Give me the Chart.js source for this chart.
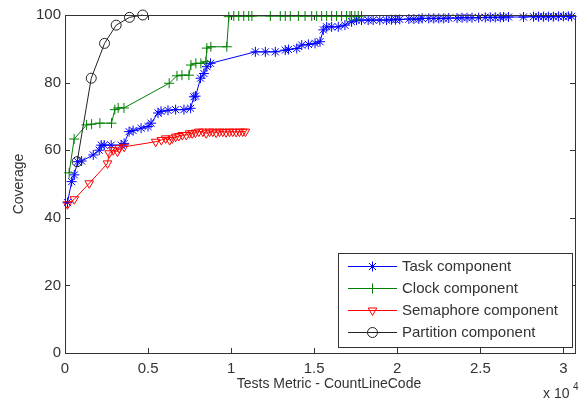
<!DOCTYPE html>
<html>
<head>
<meta charset="utf-8">
<script src="https://cdn.jsdelivr.net/npm/chart.js@4.4.0/dist/chart.umd.min.js"></script>
<style>
  body { margin: 0; background: #fff; }
  canvas { display: block; }
</style>
</head>
<body>
<canvas id="covChart" width="581" height="402"></canvas>
<script>
// series (x = lines of code, y = coverage %)
var taskX = [150, 400, 560, 760, 1000, 1700, 2060, 2180, 2360, 2780, 3380, 3560, 3860, 4100, 4580, 5000, 5180, 5600, 5780, 6200,
  6660, 7160, 7560, 7760, 7860, 8160, 8360, 8540, 8760, 11460, 12060, 12660, 13260, 13450, 13950, 14250, 14650, 15050, 15350, 15550,
  15750, 16050, 16450, 16850, 17250, 17550, 17850, 18250, 18550, 18950, 19350, 19650, 19900, 20150, 20700, 21000, 21300, 21500, 21900, 22200,
  22500, 22800, 23100, 23600, 23900, 24200, 24500, 24900, 25300, 25600, 25900, 26200, 26400, 26700, 27600, 28200, 28500, 28800, 29100, 29400,
  29700, 30000, 30300, 30500];
var taskY = [44.5, 50.7, 52.7, 56.6, 56.8, 58.6, 60, 61.5, 61.5, 61.5, 61.5, 62, 65.5, 65.8, 66.5, 67, 68, 71, 71.5, 71.8,
  72, 72, 72.4, 75.8, 76, 81.3, 82.7, 84.7, 85.7, 89.1, 89.1, 89.1, 89.6, 89.8, 90.1, 91.1, 91.3, 91.6, 92.1, 95.6,
  96.5, 96.5, 96.5, 97, 98, 98.5, 98.5, 98.5, 98.5, 98.5, 98.5, 98.6, 98.6, 98.7, 98.8, 98.8, 98.8, 99, 99, 99,
  99, 99, 99.1, 99.1, 99.2, 99.2, 99.2, 99.2, 99.3, 99.3, 99.3, 99.3, 99.4, 99.4, 99.4, 99.5, 99.5, 99.5, 99.5, 99.5,
  99.6, 99.6, 99.6, 99.6];

var clockX = [250, 550, 1300, 1600, 2100, 2800, 3000, 3200, 3550, 6270, 6740, 7040, 7460, 7580, 7880, 8180, 8480, 8540, 8780, 9740,
  9860, 10160, 10460, 10760, 11060, 11250, 12360, 12960, 13260, 13560, 14050, 14450, 14850, 15150, 15450, 15750, 16050, 16350, 16650, 16950,
  17150, 17250, 17450, 17650, 17850];
var clockY = [53.3, 63.3, 67.5, 67.7, 68, 68, 72, 72.5, 72.5, 79.8, 82, 82.2, 82.2, 85.2, 85.7, 85.7, 86.2, 90.2, 90.6, 90.6,
  99.5, 99.7, 99.7, 99.7, 99.7, 99.7, 99.7, 99.7, 99.7, 99.7, 99.7, 99.7, 99.7, 99.7, 99.7, 99.7, 99.7, 99.7, 99.7, 99.7,
  99.7, 99.7, 99.7, 99.7, 99.7];

var semX = [150, 560, 1460, 2560, 2660, 2900, 3160, 3260, 3560, 5460, 5800, 6060, 6300, 6460, 6660, 6850, 7060, 7300, 7500, 7660,
  7850, 8060, 8300, 8500, 8700, 8900, 9100, 9300, 9500, 9700, 9900, 10100, 10300, 10500, 10700, 10860];
var semY = [44, 45.5, 50.2, 56.1, 59.1, 60, 59.6, 60.6, 61, 62.5, 63, 63.5, 63, 63.5, 64, 64.2, 64.5, 64.5, 65, 65,
  65.2, 65.5, 65.5, 65, 65.5, 65.5, 65.2, 65.5, 65.5, 65.3, 65.5, 65.5, 65.4, 65.5, 65.5, 65.5];

var partX = [730, 1580, 2380, 3080, 3880, 4680];
var partY = [56.6, 81.3, 91.6, 97, 99.3, 100];

var xTicks = [0, 5000, 10000, 15000, 20000, 25000, 30000];
var xTickLabels = ['0', '0.5', '1', '1.5', '2', '2.5', '3'];
var yTicks = [0, 20, 40, 60, 80, 100];

var seriesNames = ['Task component', 'Clock component', 'Semaphore component', 'Partition component'];

function pts(xs, ys) {
  var out = [];
  for (var i = 0; i < xs.length; i++) out.push({x: xs[i], y: ys[i]});
  return out;
}

var txtColor = '#333';
var fontFam = '"Liberation Sans", Arial, sans-serif';

// box, inward ticks, axis titles and legend (MATLAB look)
var matlabAxes = {
  id: 'matlabAxes',
  afterDraw: function(chart) {
    var ctx = chart.ctx, a = chart.chartArea;
    var xs = chart.scales.x, ys = chart.scales.y;
    ctx.save();
    ctx.strokeStyle = '#333';
    ctx.lineWidth = 1;
    ctx.strokeRect(Math.round(a.left) + 0.5, Math.round(a.top) + 0.5, Math.round(a.right - a.left), Math.round(a.bottom - a.top));
    ctx.beginPath();
    xTicks.forEach(function(v) {
      var px = Math.round(xs.getPixelForValue(v)) + 0.5;
      ctx.moveTo(px, a.bottom); ctx.lineTo(px, a.bottom - 5);
      ctx.moveTo(px, a.top); ctx.lineTo(px, a.top + 5);
    });
    yTicks.forEach(function(v) {
      var py = Math.round(ys.getPixelForValue(v)) + 0.5;
      ctx.moveTo(a.left, py); ctx.lineTo(a.left + 5, py);
      ctx.moveTo(a.right, py); ctx.lineTo(a.right - 5, py);
    });
    ctx.stroke();

    // titles
    ctx.fillStyle = txtColor;
    ctx.font = '14px ' + fontFam;
    ctx.textAlign = 'center';
    ctx.textBaseline = 'middle';
    ctx.fillText('Tests Metric - CountLineCode', 329, 384);
    ctx.save();
    ctx.translate(19, 184);
    ctx.rotate(-Math.PI / 2);
    ctx.fillText('Coverage', 0, 0);
    ctx.restore();
    ctx.textAlign = 'left';
    ctx.textBaseline = 'alphabetic';
    ctx.fillText('x 10', 543, 398);
    ctx.font = '10px ' + fontFam;
    ctx.fillText('4', 573, 390);

    // legend
    var lx = 338, ly = 253, lw = 234, lh = 94;
    ctx.fillStyle = '#fff';
    ctx.fillRect(lx, ly, lw, lh);
    ctx.strokeStyle = '#333';
    ctx.strokeRect(lx + 0.5, ly + 0.5, lw, lh);
    ctx.font = '15px ' + fontFam;
    ctx.textBaseline = 'middle';
    chart.data.datasets.forEach(function(ds, i) {
      var ry = 266 + i * 22;
      ctx.strokeStyle = ds.borderColor;
      ctx.lineWidth = 1;
      ctx.beginPath();
      ctx.moveTo(348, ry + 0.5); ctx.lineTo(397, ry + 0.5);
      ctx.stroke();
      ctx.fillStyle = 'rgba(0,0,0,0)';
      Chart.helpers.drawPoint(ctx, {
        pointStyle: ds.pointStyle, rotation: ds.pointRotation || 0,
        radius: ds.pointRadius, borderWidth: 1
      }, 372.5, ry + 0.5);
      ctx.fillStyle = txtColor;
      ctx.fillText(ds.label, 402, ry + 1);
    });
    ctx.restore();
  }
};

function lineSet(name, color, data, style, radius, rot, order) {
  return {
    label: name, data: data,
    borderColor: color, backgroundColor: 'rgba(0,0,0,0)',
    borderWidth: 1, pointStyle: style, pointRadius: radius, pointRotation: rot,
    pointBorderColor: color, pointBackgroundColor: 'rgba(0,0,0,0)', pointBorderWidth: 1,
    tension: 0, clip: false, order: order
  };
}

var ctx = document.getElementById('covChart');
var covChart = new Chart(ctx, {
  type: 'line',
  data: {
    datasets: [
      lineSet(seriesNames[0], '#0000ff', pts(taskX, taskY), 'star', 5, 0, 3),
      lineSet(seriesNames[1], '#008000', pts(clockX, clockY), 'cross', 5, 0, 2),
      lineSet(seriesNames[2], '#ff0000', pts(semX, semY), 'triangle', 5, 180, 1),
      lineSet(seriesNames[3], '#222222', pts(partX, partY), 'circle', 5, 0, 0)
    ]
  },
  options: {
    responsive: false,
    animation: false,
    layout: { padding: { left: 0, right: 3, top: 15, bottom: 0 } },
    plugins: { legend: { display: false }, tooltip: { enabled: false } },
    scales: {
      x: {
        type: 'linear', min: 0, max: 30700,
        afterFit: function(s) { s.height = 49; },
        afterBuildTicks: function(s) { s.ticks = xTicks.map(function(v) { return {value: v}; }); },
        grid: { display: false, drawTicks: false, tickLength: 0 }, border: { display: false },
        ticks: {
          autoSkip: false, maxRotation: 0, padding: 7,
          color: txtColor, font: { family: fontFam, size: 15 },
          callback: function(v, i) { return xTickLabels[i]; }
        }
      },
      y: {
        min: 0, max: 100,
        afterFit: function(s) { s.width = 65; },
        afterBuildTicks: function(s) { s.ticks = yTicks.map(function(v) { return {value: v}; }); },
        grid: { display: false, drawTicks: false, tickLength: 0 }, border: { display: false },
        ticks: { padding: 4, color: txtColor, font: { family: fontFam, size: 15 } }
      }
    }
  },
  plugins: [matlabAxes]
});
</script>
</body>
</html>
